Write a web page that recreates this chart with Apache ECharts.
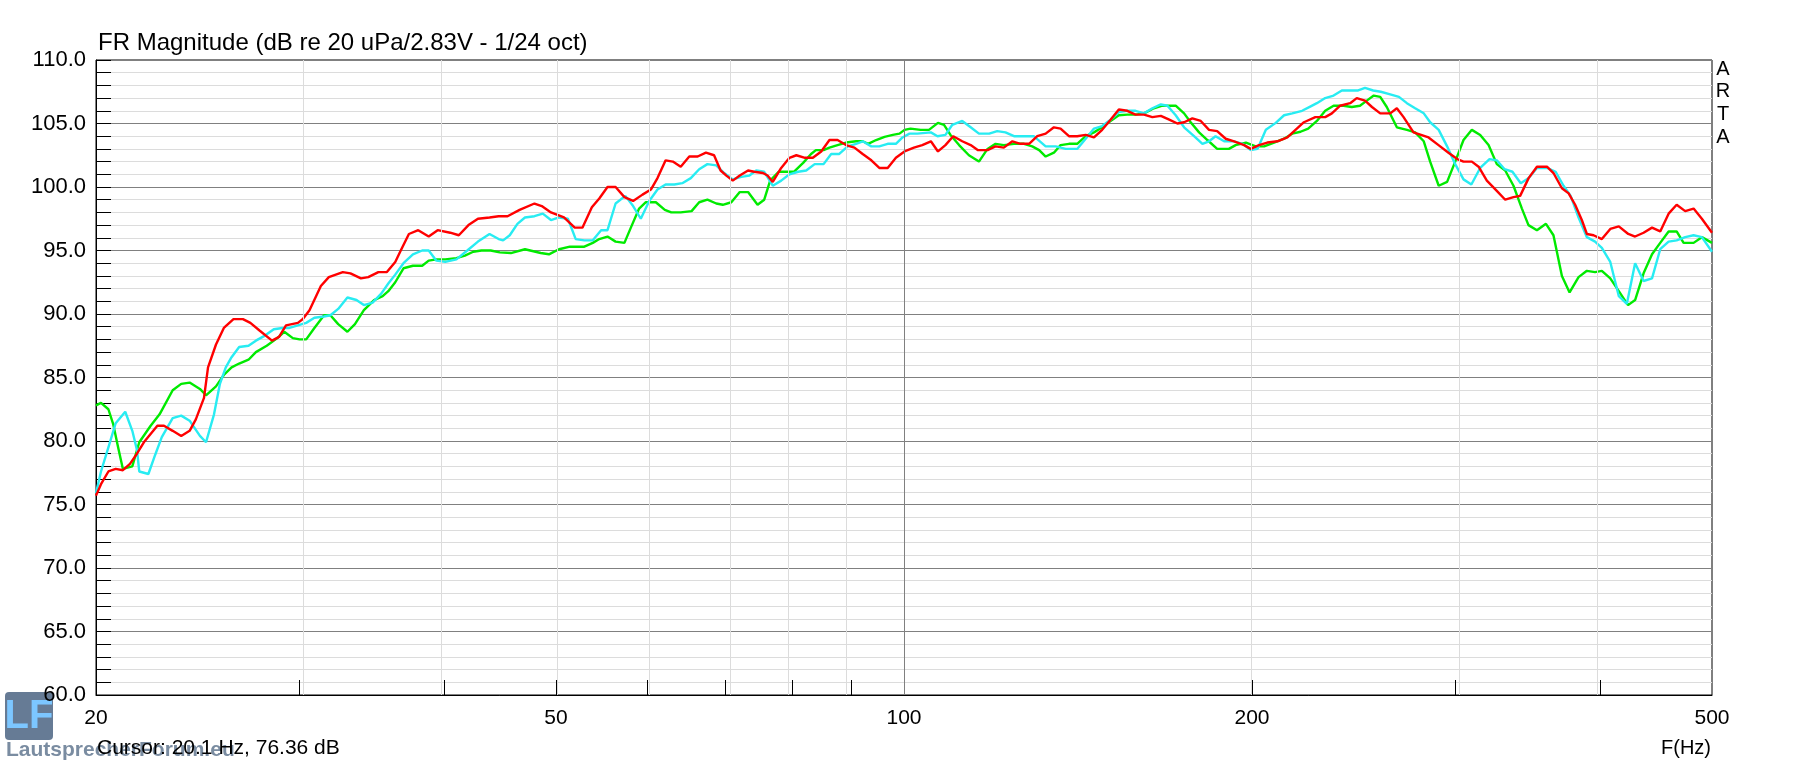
<!DOCTYPE html>
<html>
<head>
<meta charset="utf-8">
<title>FR Magnitude</title>
<script src="https://cdn.jsdelivr.net/npm/echarts@6/dist/echarts.min.js"></script>
<style>
    html, body { margin: 0; padding: 0; background: #fff; }
    #chart { width: 1807px; height: 767px; }
</style>
</head>
<body>
<div id="chart"></div>
<script>
var FONT = '"Liberation Sans", Arial, sans-serif';

// frequency axis (Hz) and level axis (dB)
var xLabelFreqs = [20, 50, 100, 200, 500];
var xGridFreqs = [30, 40, 50, 60, 70, 80, 90, 100, 200, 300, 400];
var xMajorFreq = 100;
var cursorFreq = 20.1;
var yMin = 60, yMax = 110, yStep = 5;

// [Hz, dB], 1/24 oct smoothed curves
var redPoints = [
    [20, 75.7], [20.2, 76.6], [20.5, 77.6], [20.8, 77.8], [21.1, 77.7], [21.4, 78.2], [21.7, 79.0], [22.0, 79.9],
    [22.6, 81.2], [22.9, 81.2], [23.3, 80.8], [23.7, 80.4], [24.1, 80.8], [24.4, 81.7], [24.8, 83.4], [25.0, 85.8],
    [25.4, 87.6], [25.8, 88.9], [26.3, 89.6], [26.8, 89.6], [27.2, 89.3], [27.7, 88.7], [28.4, 87.9], [28.8, 88.2],
    [29.2, 89.1], [29.9, 89.3], [30.2, 89.6], [30.6, 90.3], [31.3, 92.2], [31.8, 92.9], [32.7, 93.3], [33.2, 93.2],
    [33.9, 92.8], [34.4, 92.9], [35.1, 93.3], [35.7, 93.3], [36.3, 94.1], [36.7, 95.0], [37.3, 96.3], [38.0, 96.6],
    [38.8, 96.1], [39.5, 96.6], [40.5, 96.4], [41.2, 96.2], [42.0, 97.0], [42.8, 97.5], [43.8, 97.6], [44.6, 97.7],
    [45.4, 97.7], [46.5, 98.2], [47.9, 98.7], [48.6, 98.5], [49.5, 98.0], [50.8, 97.6], [51.9, 96.8], [52.7, 96.8],
    [53.7, 98.4], [54.5, 99.1], [55.4, 100.0], [56.3, 100.0], [57.3, 99.2], [58.3, 98.9], [59.4, 99.4], [60.4, 99.8],
    [61.2, 100.7], [62.2, 102.1], [63.1, 102.0], [64.1, 101.6], [65.2, 102.4], [66.3, 102.4], [67.4, 102.7], [68.5, 102.5],
    [69.4, 101.3], [70.2, 100.9], [71.1, 100.5], [72.1, 100.9], [73.3, 101.3], [74.2, 101.2], [75.5, 101.1], [76.2, 100.9],
    [77.0, 100.4], [78.3, 101.5], [79.6, 102.3], [80.7, 102.5], [82.1, 102.3], [83.4, 102.3], [84.8, 102.8], [86.2, 103.7],
    [87.6, 103.7], [89.1, 103.3], [90.6, 103.1], [92.1, 102.6], [93.7, 102.1], [95.2, 101.5], [96.8, 101.5], [98.4, 102.3],
    [100.1, 102.8], [102.0, 103.1], [103.7, 103.3], [105.5, 103.6], [107.0, 102.8], [108.6, 103.3], [110.3, 104.0], [112.3, 103.6],
    [114.2, 103.3], [115.9, 102.9], [118.1, 102.9], [120.0, 103.2], [122.0, 103.1], [124.1, 103.6], [126.1, 103.4], [128.3, 103.4],
    [130.4, 104.0], [132.6, 104.2], [134.8, 104.7], [136.6, 104.6], [138.9, 104.0], [141.2, 104.0], [143.6, 104.1], [146.0, 103.9],
    [148.4, 104.5], [150.9, 105.3], [153.4, 106.1], [156.0, 106.0], [158.6, 105.7], [161.3, 105.7], [164.0, 105.5], [166.8, 105.6],
    [169.6, 105.3], [172.4, 105.0], [174.7, 105.1], [177.6, 105.4], [180.6, 105.2], [183.6, 104.5], [186.6, 104.4], [189.8, 103.8],
    [193.0, 103.6], [196.9, 103.3], [199.5, 103.0], [202.8, 103.3], [206.2, 103.5], [210.4, 103.6], [214.6, 103.9], [218.1, 104.5],
    [221.8, 105.1], [226.9, 105.5], [231.4, 105.5], [234.5, 105.8], [238.4, 106.4], [243.2, 106.6], [246.4, 107.0], [250.5, 106.8],
    [254.0, 106.3], [258.2, 105.8], [263.4, 105.8], [266.9, 106.2], [270.5, 105.5], [275.9, 104.3], [284.3, 103.9], [290.0, 103.3],
    [295.8, 102.7], [301.0, 102.2], [304.8, 102.0], [309.9, 102.0], [314.1, 101.6], [319.3, 100.5], [325.7, 99.7], [331.2, 99.0],
    [336.7, 99.2], [341.2, 99.3], [347.0, 100.7], [352.8, 101.6], [359.9, 101.6], [364.6, 101.1], [370.8, 99.9], [375.8, 99.5],
    [380.7, 98.6], [385.8, 97.4], [389.7, 96.3], [394.9, 96.2], [401.5, 95.9], [408.3, 96.7], [415.3, 96.9], [423.2, 96.3],
    [429.0, 96.1], [436.3, 96.4], [443.7, 96.8], [451.0, 96.5], [458.6, 97.9], [466.0, 98.6], [474.0, 98.1], [482.0, 98.3],
    [490.0, 97.5], [500, 96.4]
];

var greenPoints = [
    [20, 82.8], [20.2, 83.0], [20.5, 82.5], [20.7, 81.3], [20.9, 79.5], [21.1, 77.8], [21.5, 78.0], [21.8, 79.9],
    [22.3, 81.2], [22.7, 82.1], [23.3, 84.0], [23.7, 84.5], [24.1, 84.6], [24.6, 84.1], [24.9, 83.6], [25.4, 84.3],
    [25.8, 85.2], [26.2, 85.8], [26.6, 86.1], [27.1, 86.4], [27.5, 87.0], [28.1, 87.5], [28.7, 88.1], [29.1, 88.6],
    [29.6, 88.1], [30.0, 88.0], [30.4, 88.0], [30.9, 88.9], [31.5, 89.9], [31.9, 89.9], [32.4, 89.2], [33.0, 88.6],
    [33.5, 89.2], [34.1, 90.3], [34.8, 91.1], [35.4, 91.4], [35.8, 91.8], [36.3, 92.5], [36.9, 93.6], [37.6, 93.8],
    [38.3, 93.8], [38.8, 94.2], [39.4, 94.3], [40.1, 94.3], [41.0, 94.4], [41.7, 94.6], [42.4, 94.9], [43.1, 95.0],
    [43.9, 95.0], [44.7, 94.85], [45.7, 94.8], [47.0, 95.1], [48.5, 94.8], [49.3, 94.7], [50.3, 95.1], [51.4, 95.3],
    [52.9, 95.3], [53.8, 95.6], [54.5, 95.9], [55.4, 96.1], [56.3, 95.7], [57.3, 95.6], [58.1, 96.9], [59.0, 98.3],
    [59.8, 98.8], [61.0, 98.8], [62.1, 98.2], [62.9, 98.0], [64.1, 98.0], [65.5, 98.1], [66.5, 98.8], [67.6, 99.0],
    [68.8, 98.7], [69.7, 98.6], [70.9, 98.8], [72.1, 99.6], [73.3, 99.6], [74.7, 98.6], [75.7, 99.0], [76.6, 100.5],
    [77.9, 101.2], [79.2, 101.2], [80.3, 101.2], [81.8, 101.9], [83.1, 102.6], [83.9, 102.9], [85.2, 102.9], [86.2, 103.1],
    [87.6, 103.3], [89.1, 103.5], [90.9, 103.6], [92.1, 103.6], [93.1, 103.4], [94.6, 103.7], [96.2, 103.95], [97.8, 104.1],
    [99.1, 104.2], [100.1, 104.5], [101.3, 104.6], [103.4, 104.5], [105.1, 104.5], [107.0, 105.05], [108.3, 104.9], [109.7, 104.1],
    [111.6, 103.3], [113.8, 102.5], [116.1, 102.0], [118.1, 103.0], [120.0, 103.4], [122.0, 103.3], [124.5, 103.4], [127.0, 103.4],
    [129.1, 103.2], [130.9, 102.9], [132.6, 102.4], [134.8, 102.7], [136.6, 103.3], [138.9, 103.4], [141.2, 103.4], [143.6, 104.0],
    [146.0, 104.3], [148.4, 104.7], [150.9, 105.2], [153.4, 105.65], [156.0, 105.7], [158.6, 105.7], [161.3, 105.8], [164.5, 106.2],
    [167.3, 106.4], [169.0, 106.4], [171.8, 106.4], [174.7, 105.8], [177.0, 105.1], [180.0, 104.3], [183.0, 103.7], [186.6, 103.0],
    [191.0, 103.0], [193.6, 103.3], [197.6, 103.5], [201.5, 103.2], [204.9, 103.2], [209.0, 103.5], [213.2, 103.8], [216.7, 104.2],
    [220.3, 104.35], [223.7, 104.6], [227.6, 105.2], [231.4, 106.0], [235.3, 106.4], [240.0, 106.4], [244.0, 106.3], [248.0, 106.4],
    [251.4, 106.8], [254.9, 107.2], [258.2, 107.1], [261.6, 106.3], [266.9, 104.7], [272.3, 104.5], [276.8, 104.3], [281.6, 103.6],
    [285.2, 102.0], [290.1, 100.1], [295.0, 100.4], [299.8, 102.0], [304.8, 103.7], [309.9, 104.5], [315.1, 104.1], [320.4, 103.3],
    [325.7, 101.8], [331.2, 101.3], [336.7, 100.1], [342.4, 98.3], [346.9, 97.0], [352.8, 96.6], [359.2, 97.1], [364.6, 96.2],
    [370.8, 93.0], [376.5, 91.7], [383.3, 92.9], [389.7, 93.4], [396.1, 93.3], [401.5, 93.4], [408.3, 92.8], [415.3, 91.8],
    [423.0, 90.7], [429.0, 91.1], [436.3, 93.2], [443.7, 94.7], [451.0, 95.6], [458.6, 96.5], [466.0, 96.5], [472.5, 95.6],
    [482.0, 95.6], [490.0, 96.05], [500, 95.6]
];

var cyanPoints = [
    [20, 75.9], [20.2, 77.6], [20.5, 79.5], [20.8, 81.4], [21.2, 82.3], [21.5, 80.8], [21.7, 79.3], [21.8, 77.6],
    [22.2, 77.4], [22.5, 78.9], [22.8, 80.3], [23.3, 81.8], [23.7, 82.0], [24.1, 81.6], [24.6, 80.4], [24.9, 79.9],
    [25.3, 82.1], [25.6, 84.5], [25.9, 85.8], [26.2, 86.6], [26.6, 87.4], [27.1, 87.5], [27.5, 87.9], [28.0, 88.3],
    [28.5, 88.8], [29.0, 88.9], [29.4, 88.9], [29.9, 89.1], [30.4, 89.3], [30.9, 89.7], [31.5, 89.8], [31.9, 89.9],
    [32.4, 90.4], [33.0, 91.3], [33.6, 91.1], [34.1, 90.7], [34.7, 90.9], [35.3, 91.6], [35.8, 92.4], [36.3, 93.1],
    [36.9, 94.0], [37.6, 94.7], [38.3, 95.0], [38.8, 95.0], [39.4, 94.2], [40.1, 94.1], [41.0, 94.3], [41.9, 95.0],
    [42.8, 95.7], [43.8, 96.3], [44.6, 95.9], [45.0, 95.8], [45.6, 96.2], [46.3, 97.1], [47.0, 97.6], [47.9, 97.7],
    [48.7, 97.9], [49.5, 97.4], [50.3, 97.6], [51.2, 97.5], [52.0, 95.9], [52.9, 95.8], [53.8, 95.8], [54.7, 96.6],
    [55.4, 96.6], [56.3, 98.7], [57.4, 99.3], [58.3, 98.5], [59.2, 97.5], [60.2, 98.9], [61.2, 99.8], [62.2, 100.2],
    [63.3, 100.2], [64.3, 100.3], [65.4, 100.7], [66.5, 101.4], [67.6, 101.8], [68.8, 101.7], [69.9, 101.1], [71.1, 100.6],
    [72.3, 100.8], [73.5, 100.9], [74.5, 101.3], [75.7, 101.2], [77.0, 100.1], [78.3, 100.5], [79.6, 101.0], [81.0, 101.2],
    [82.3, 101.3], [83.7, 101.8], [85.2, 101.8], [86.5, 102.6], [87.9, 102.6], [89.4, 103.2], [90.9, 103.4], [92.1, 103.6],
    [93.7, 103.2], [95.2, 103.2], [96.8, 103.4], [98.4, 103.4], [99.7, 103.9], [101.1, 104.2], [102.7, 104.2], [105.5, 104.3],
    [106.9, 104.0], [108.6, 104.1], [110.1, 104.9], [112.3, 105.2], [114.2, 104.7], [116.1, 104.2], [118.5, 104.2], [120.4, 104.4],
    [122.4, 104.3], [124.5, 104.0], [127.0, 104.0], [129.5, 104.0], [132.6, 103.2], [135.3, 103.2], [138.0, 103.0], [141.2, 103.0],
    [143.6, 103.8], [146.0, 104.6], [148.4, 104.8], [150.9, 105.3], [153.4, 105.9], [156.0, 106.0], [158.6, 106.0], [161.3, 105.8],
    [164.0, 106.2], [166.8, 106.5], [169.0, 106.4], [171.8, 105.65], [174.7, 104.7], [178.2, 104.0], [181.2, 103.4], [183.6, 103.6],
    [186.0, 104.0], [189.2, 103.6], [193.0, 103.6], [196.3, 103.4], [199.5, 102.9], [202.2, 103.0], [205.6, 104.5], [209.7, 105.05],
    [213.2, 105.65], [216.7, 105.8], [221.0, 106.0], [224.8, 106.35], [227.6, 106.6], [231.4, 107.0], [235.3, 107.2], [239.2, 107.6],
    [243.2, 107.6], [247.1, 107.6], [250.5, 107.8], [254.6, 107.6], [258.5, 107.5], [263.4, 107.3], [268.0, 107.1], [272.3, 106.6],
    [276.8, 106.2], [281.6, 105.8], [285.2, 105.1], [290.1, 104.5], [295.0, 103.2], [299.8, 101.8], [304.8, 100.6], [309.6, 100.2],
    [315.1, 101.5], [321.0, 102.2], [325.7, 102.1], [330.8, 101.4], [336.0, 101.2], [341.6, 100.3], [347.1, 100.7], [352.8, 101.5],
    [360.0, 101.5], [366.2, 101.2], [372.0, 100.1], [377.3, 99.3], [383.3, 97.6], [389.7, 96.05], [396.1, 95.7], [401.5, 95.2],
    [408.3, 94.1], [415.3, 91.4], [422.0, 90.8], [429.0, 94.0], [436.3, 92.6], [443.7, 92.8], [451.0, 95.1], [458.6, 95.7],
    [466.0, 95.8], [474.0, 96.05], [482.0, 96.2], [490.0, 96.05], [500, 94.9]
];

function lg(f) {
    return Math.log10(f);
}

function toLog(points) {
    return points.map(function(p) {
        return [lg(p[0]), p[1]];
    });
}

function curve(name, points, color) {
    return {
        name: name,
        type: 'line',
        data: toLog(points),
        showSymbol: false,
        symbol: 'none',
        z: 3,
        lineStyle: { color: color, width: 2.4 },
        itemStyle: { color: color },
        silent: true
    };
}

// vertical grid lines + cursor line, placed through the x axis
var gridLines = xGridFreqs.map(function(f) {
    return {
        xAxis: lg(f),
        lineStyle: { color: f === xMajorFreq ? '#808080' : '#dcdcdc', width: 1, type: 'solid' }
    };
});
gridLines.push({ xAxis: lg(cursorFreq), lineStyle: { color: '#b4b400', width: 1, type: 'solid' } });

var chart = echarts.init(document.getElementById('chart'));
chart.setOption({
    animation: false,
    backgroundColor: '#fff',
    textStyle: { fontFamily: FONT },
    grid: {
        left: 96, right: 95, top: 60, bottom: 72,
        show: true, borderColor: '#000', borderWidth: 1, backgroundColor: 'transparent'
    },
    xAxis: {
        type: 'value',
        min: lg(xLabelFreqs[0]),
        max: lg(xLabelFreqs[xLabelFreqs.length - 1]),
        axisLine: { show: true, lineStyle: { color: '#000', width: 1 } },
        axisTick: {
            show: true, inside: true, length: 15,
            customValues: xGridFreqs.map(lg),
            lineStyle: { color: '#000', width: 1 }
        },
        axisLabel: {
            show: true, margin: 13, color: '#000', fontSize: 21, fontFamily: FONT,
            customValues: xLabelFreqs.map(lg),
            showMinLabel: true, showMaxLabel: true,
            formatter: function(v) {
                return String(Math.round(Math.pow(10, v)));
            }
        },
        splitLine: { show: false }
    },
    yAxis: {
        type: 'value',
        min: yMin, max: yMax, interval: yStep,
        axisLine: { show: true, lineStyle: { color: '#000', width: 1 } },
        axisTick: { show: true, inside: true, length: 15, lineStyle: { color: '#000', width: 1 } },
        minorTick: { show: true, splitNumber: 5, length: 15, lineStyle: { color: '#000', width: 1 } },
        axisLabel: {
            margin: 10, color: '#000', fontSize: 22, fontFamily: FONT,
            formatter: function(v) {
                return v.toFixed(1);
            }
        },
        splitLine: { show: true, lineStyle: { color: '#808080', width: 1 } },
        minorSplitLine: { show: true, lineStyle: { color: '#dcdcdc', width: 1 } }
    },
    series: [
        {
            type: 'line',
            data: [],
            z: 1,
            silent: true,
            markLine: {
                silent: true,
                symbol: 'none',
                animation: false,
                label: { show: false },
                emphasis: { disabled: true },
                data: gridLines
            }
        },
        curve('green', greenPoints, '#00ea00'),
        curve('cyan', cyanPoints, '#28ecf2'),
        curve('red', redPoints, '#ff0000')
    ],
    graphic: [
        {
            type: 'text', x: 98, y: 43,
            style: { text: 'FR Magnitude (dB re 20 uPa/2.83V - 1/24 oct)', fontSize: 24, fontFamily: FONT, fill: '#000', verticalAlign: 'middle' }
        },
        { type: 'text', x: 1723, y: 69, style: { text: 'A', fontSize: 20, fontFamily: FONT, fill: '#000', align: 'center', verticalAlign: 'middle' } },
        { type: 'text', x: 1723, y: 91, style: { text: 'R', fontSize: 20, fontFamily: FONT, fill: '#000', align: 'center', verticalAlign: 'middle' } },
        { type: 'text', x: 1723, y: 114, style: { text: 'T', fontSize: 20, fontFamily: FONT, fill: '#000', align: 'center', verticalAlign: 'middle' } },
        { type: 'text', x: 1723, y: 137, style: { text: 'A', fontSize: 20, fontFamily: FONT, fill: '#000', align: 'center', verticalAlign: 'middle' } },
        {
            type: 'text', x: 1711, y: 748,
            style: { text: 'F(Hz)', fontSize: 20, fontFamily: FONT, fill: '#000', align: 'right', verticalAlign: 'middle' }
        },
        // forum watermark
        {
            type: 'rect', shape: { x: 5, y: 692, width: 48, height: 48, r: 4 },
            style: { fill: '#667b95' }, z: -1
        },
        {
            type: 'text', x: 29, y: 717, z: -1,
            style: { text: 'LF', fontSize: 40, fontWeight: 'bold', fontFamily: FONT, fill: '#7cc6ff', align: 'center', verticalAlign: 'middle' }
        },
        {
            type: 'text', x: 6, y: 750,
            style: { text: 'LautsprecherForum.eu', fontSize: 21, fontWeight: 'bold', fontFamily: FONT, fill: '#6b7f97', verticalAlign: 'middle', opacity: 0.9 }
        },
        {
            type: 'text', x: 97, y: 748,
            style: { text: 'Cursor: 20.1 Hz, 76.36 dB', fontSize: 21, fontFamily: FONT, fill: '#000', verticalAlign: 'middle' }
        }
    ]
});
</script>
</body>
</html>
